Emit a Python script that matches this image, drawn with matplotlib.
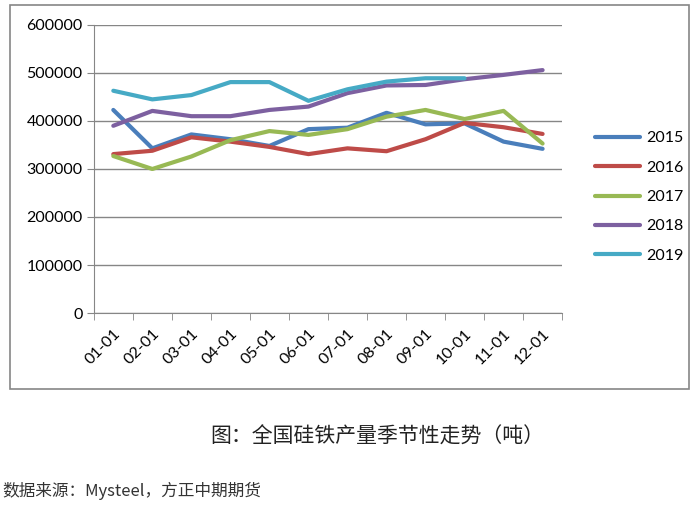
import matplotlib
matplotlib.use("Agg")
import matplotlib.pyplot as plt
from matplotlib.patches import Rectangle

# monthly data, tonnes
months = ['01-01', '02-01', '03-01', '04-01', '05-01', '06-01',
          '07-01', '08-01', '09-01', '10-01', '11-01', '12-01']
y2015 = [423000, 343000, 372000, 362000, 348000, 383000, 386000, 417000, 393000, 395000, 357000, 342000]
y2016 = [331000, 338000, 366000, 357000, 346000, 331000, 343000, 337000, 362000, 396000, 387000, 373000]
y2017 = [327000, 300000, 326000, 360000, 379000, 371000, 383000, 409000, 423000, 404000, 421000, 353000]
y2018 = [390000, 421000, 410000, 410000, 423000, 430000, 458000, 474000, 475000, 487000, 496000, 506000]
y2019 = [463000, 445000, 454000, 481000, 481000, 442000, 466000, 482000, 489000, 489000]
years = ['2015', '2016', '2017', '2018', '2019']
colors = ['#4a7ebb', '#be4b48', '#98b954', '#7d60a0', '#46aac5']

plt.rcParams['font.family'] = ['Lato', 'Noto Sans CJK SC', 'DejaVu Sans']

fig = plt.figure(figsize=(7, 5.16), dpi=100)
ax = fig.add_axes([0.134, 0.3934, 0.669, 0.5582])

series = [y2015, y2016, y2017, y2018, y2019]
for vals, lab, c in zip(series, years, colors):
    ax.plot(range(len(vals)), vals, color=c, lw=3, label=lab, solid_capstyle='round')

ax.set_ylim(0, 600000)
ax.set_xlim(-0.5, 11.5)
ax.set_yticks(range(0, 600001, 100000))
ax.yaxis.grid(True, color='#868686', lw=1)
ax.set_axisbelow(True)

ax.set_xticks(range(12))
ax.set_xticklabels(months, rotation=45, ha='right', rotation_mode='anchor')
ax.set_xticks([i - 0.5 for i in range(13)], minor=True)
ax.tick_params(axis='x', which='major', length=0, pad=10, labelsize=11.5)
ax.tick_params(axis='x', which='minor', length=5, color='#868686')
ax.tick_params(axis='y', length=5, color='#868686', labelsize=11.5, pad=3)

for s in ['top', 'right']:
    ax.spines[s].set_visible(False)
for s in ['left', 'bottom']:
    ax.spines[s].set_color('#868686')

ax.legend(loc='center left', bbox_to_anchor=(0.83, 1 - 197 / 516), bbox_transform=fig.transFigure,
          frameon=False, fontsize=11.5, handlelength=2.8, labelspacing=0.95, handletextpad=0.4)

# outer chart frame
fig.patches.append(Rectangle((10 / 700, 1 - 389 / 516), 679 / 700, 384 / 516,
                             transform=fig.transFigure, fill=False, edgecolor='#868686', lw=1.2))

fig.text(0.539, 1 - 437 / 516, '图：全国硅铁产量季节性走势（吨）', ha='center', va='center',
         fontsize=15, color='#222222', family=['Noto Sans CJK SC'])
fig.text(0.004, 1 - 491 / 516, '数据来源：Mysteel，方正中期期货', ha='left', va='center',
         fontsize=12, style='italic', color='#333333', family=['Noto Sans CJK SC'])

fig.savefig('out.png', dpi=100)
